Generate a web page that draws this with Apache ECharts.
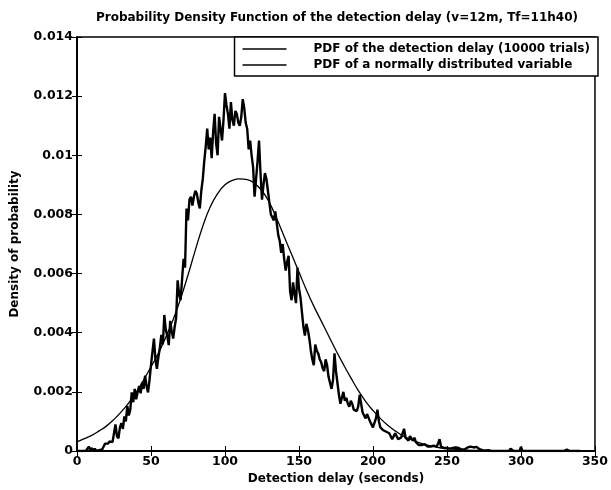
<!DOCTYPE html>
<html>
<head>
<meta charset="utf-8">
<script src="https://cdn.jsdelivr.net/npm/echarts@6/dist/echarts.min.js"></script>
<style>
  html, body { margin: 0; padding: 0; background: #fff; }
  #chart { width: 611px; height: 490px; }
</style>
</head>
<body>
<div id="chart"></div>
<script>
// empirical pdf, one value per second of delay (0..350 s)
const trialPdf = [
  0, 0, 0, 0, 0, 0.00005, 0, 0, 0.00015, 0.00003,
  0.0001, 0, 0.00008, 0, 0, 0.00003, 0, 0.00005, 0.00015, 0.00025,
  0.0003, 0.00025, 0.00032, 0.00028, 0.0003, 0.00025, 0.0009, 0.0005, 0.00043, 0.0008,
  0.00094, 0.00075, 0.00117, 0.001, 0.00152, 0.0012, 0.0014, 0.00198, 0.00165, 0.0021,
  0.00175, 0.002, 0.0022, 0.00195, 0.00232, 0.0021, 0.00255, 0.0022, 0.00198, 0.0024,
  0.0029, 0.00336, 0.0038, 0.0031, 0.00278, 0.00318, 0.0035, 0.00393, 0.0036, 0.0046,
  0.0041, 0.0039, 0.00358, 0.0044, 0.00405, 0.0038, 0.0042, 0.0045, 0.00577, 0.0053,
  0.0051, 0.0058, 0.0065, 0.0062, 0.0082, 0.0078, 0.0085, 0.0086, 0.0083, 0.0086,
  0.0088, 0.0087, 0.0084, 0.0082, 0.0088, 0.0092, 0.0098, 0.0103, 0.0109, 0.0102,
  0.0106, 0.0099, 0.0108, 0.0114, 0.0104, 0.01, 0.0113, 0.0109, 0.0105, 0.0112,
  0.0121, 0.0117, 0.0114, 0.0109, 0.0118, 0.0112, 0.011, 0.0115, 0.0114, 0.0111,
  0.011, 0.0113, 0.0119, 0.0116, 0.0111, 0.0109, 0.0102, 0.0105, 0.01, 0.0096,
  0.0086, 0.0092, 0.0098, 0.0105, 0.0094, 0.0085, 0.009, 0.0094, 0.0092, 0.0088,
  0.0084, 0.008, 0.0079, 0.0078, 0.0081, 0.0077, 0.0073, 0.0071, 0.0067, 0.007,
  0.0065, 0.0061, 0.0064, 0.0066, 0.0054, 0.0051, 0.0057, 0.0053, 0.005, 0.0062,
  0.0055, 0.0052, 0.0047, 0.0042, 0.0039, 0.0043, 0.0041, 0.0038, 0.0034, 0.0031,
  0.0029, 0.0036, 0.0034, 0.0033, 0.0031, 0.003, 0.0028, 0.0027, 0.0031, 0.0029,
  0.0025, 0.0023, 0.0021, 0.0024, 0.0033, 0.0027, 0.0023, 0.0019, 0.0016, 0.0018,
  0.002, 0.0017, 0.0018, 0.0016, 0.0015, 0.0017, 0.0016, 0.0014, 0.00145, 0.00135,
  0.0015, 0.0019, 0.0016, 0.0013, 0.0012, 0.0011, 0.00125, 0.0012, 0.001, 0.0009,
  0.0008, 0.00095, 0.0011, 0.0014, 0.001, 0.0008, 0.00075, 0.0007, 0.00075, 0.00065,
  0.0006, 0.0006, 0.0005, 0.0004, 0.0005, 0.0006, 0.0005, 0.0004, 0.0004, 0.00045,
  0.0006, 0.00075, 0.00045, 0.0004, 0.00035, 0.0005, 0.00045, 0.00035, 0.00045, 0.0003,
  0.00025, 0.0002, 0.00025, 0.0002, 0.00025, 0.00023, 0.0002, 0.00015, 0.00018, 0.00015,
  0.00015, 0.00018, 0.00012, 0.00015, 0.00025, 0.0004, 0.00015, 0.00015, 0.0001, 0.00015,
  0.0001, 0.00012, 0.00008, 0.00013, 0.0001, 0.00008, 0.00012, 0.00006, 0.0001, 0.00008,
  0.00005, 0.0001, 0.00006, 0.00008, 0.00012, 0.0001, 0.00015, 0.00017, 0.00012, 0.0001,
  0.00014, 0.00008, 0.00006, 0.00008, 0.00003, 0.00005, 0.00002, 0, 0.00003, 0,
  0, 0, 0, 0, 0, 0, 0, 0, 0, 0,
  0, 0, 0, 0.00008, 0.0001, 0, 0, 0, 0, 0,
  0.00014, 0, 0, 0, 0, 0, 0, 0, 0, 0,
  0, 0, 0, 0, 0, 0, 0, 0, 0, 0,
  0, 0, 0, 0, 0, 0, 0, 0, 0, 0,
  0, 0.00005, 0, 0, 0, 0, 0, 0, 0, 0,
  0
];

// normal pdf, read every 5 s
const normalDelay = [
  0, 5, 10, 15, 20, 25, 30, 35, 40, 45, 50, 55, 60, 65, 70, 75, 80, 85, 90, 95,
  100, 105, 110, 115, 120, 125, 130, 135, 140, 145, 150, 155, 160, 165, 170, 175,
  180, 185, 190, 195, 200, 205, 210, 215, 220, 225, 230, 235, 240, 245, 250, 260,
  270, 280, 290, 300
];
const normalPdf = [
  0.00031, 0.00042, 0.00053, 0.00068, 0.00085, 0.00107, 0.00133, 0.00163, 0.00198, 0.0024,
  0.00285, 0.0033, 0.00385, 0.00445, 0.00515, 0.00595, 0.0068, 0.0076, 0.00825, 0.0087,
  0.009, 0.00915, 0.0092, 0.00918, 0.00905, 0.0088, 0.0084, 0.00785, 0.00725, 0.00665,
  0.00605, 0.00545, 0.0049, 0.0044, 0.0039, 0.0034, 0.00293, 0.00248, 0.00205, 0.00168,
  0.00137, 0.0011, 0.00087, 0.00068, 0.00052, 0.0004, 0.0003, 0.00022, 0.00016, 0.00011,
  0.00008, 0.00004, 0.00002, 0.00001, 0, 0
];

const seriesNames = ['PDF of the detection delay (10000 trials)', 'PDF of a normally distributed variable'];

const chart = echarts.init(document.getElementById('chart'));
const font = 'DejaVu Sans, Liberation Sans, sans-serif';

chart.setOption({
  animation: false,
  backgroundColor: '#fff',
  title: {
    text: 'Probability Density Function of the detection delay (v=12m, Tf=11h40)',
    left: 332,
    textAlign: 'center',
    top: 7,
    textStyle: { fontFamily: font, fontSize: 12, fontWeight: 'bold', color: '#000' }
  },
  grid: {
    left: 77, right: 13, top: 37, bottom: 27,
    show: true, borderColor: '#000', borderWidth: 1.5, backgroundColor: 'transparent'
  },
  legend: {
    right: 13, top: 37,
    orient: 'vertical',
    data: seriesNames,
    icon: 'rect',
    backgroundColor: '#fff',
    borderColor: '#000', borderWidth: 1.5, borderRadius: 0,
    padding: [6, 8, 5, 8],
    itemGap: 4,
    itemWidth: 44, itemHeight: 1.5,
    textStyle: { fontFamily: font, fontSize: 12, fontWeight: 'bold', color: '#000', padding: [0, 0, 0, 22] }
  },
  xAxis: [{
    type: 'value', min: 0, max: 350, interval: 50,
    name: 'Detection delay (seconds)', nameLocation: 'middle', nameGap: 22,
    nameTextStyle: { fontFamily: font, fontSize: 12, fontWeight: 'bold', color: '#000' },
    axisLine: { onZero: false, lineStyle: { color: '#000', width: 1.5 } },
    axisTick: { inside: true, length: 5, lineStyle: { color: '#000' } },
    axisLabel: { fontFamily: font, fontSize: 12.5, fontWeight: 'bold', color: '#000', margin: 4 },
    splitLine: { show: false }
  }, {
    type: 'value', min: 0, max: 350, interval: 50, position: 'top',
    axisLine: { lineStyle: { color: '#000', width: 1.5 } },
    axisTick: { inside: true, length: 5, lineStyle: { color: '#000' } },
    axisLabel: { show: false }, splitLine: { show: false }
  }],
  yAxis: [{
    type: 'value', min: 0, max: 0.014, interval: 0.002,
    name: 'Density of probability', nameLocation: 'middle', nameGap: 56, nameRotate: 90,
    nameTextStyle: { fontFamily: font, fontSize: 12, fontWeight: 'bold', color: '#000' },
    axisLine: { show: true, lineStyle: { color: '#000', width: 1.5 } },
    axisTick: { show: true, inside: true, length: 5, lineStyle: { color: '#000' } },
    axisLabel: {
      fontFamily: font, fontSize: 12.5, fontWeight: 'bold', color: '#000', margin: 4,
      formatter: v => (v === 0 ? '0' : String(+v.toFixed(3)))
    },
    splitLine: { show: false }
  }, {
    type: 'value', min: 0, max: 0.014, interval: 0.002, position: 'right',
    axisLine: { show: true, lineStyle: { color: '#000', width: 1.5 } },
    axisTick: { show: true, inside: true, length: 5, lineStyle: { color: '#000' } },
    axisLabel: { show: false }, splitLine: { show: false }
  }],
  series: [{
    name: seriesNames[0],
    type: 'line',
    showSymbol: false,
    symbol: 'none',
    data: trialPdf.map((v, i) => [i, v]),
    lineStyle: { color: '#000', width: 2.4, join: 'bevel' },
    itemStyle: { color: '#000' },
    z: 3
  }, {
    name: seriesNames[1],
    type: 'line',
    smooth: true,
    showSymbol: false,
    symbol: 'none',
    data: normalDelay.map((d, i) => [d, normalPdf[i]]),
    lineStyle: { color: '#000', width: 1.3 },
    itemStyle: { color: '#000' },
    z: 2
  }]
});
</script>
</body>
</html>
